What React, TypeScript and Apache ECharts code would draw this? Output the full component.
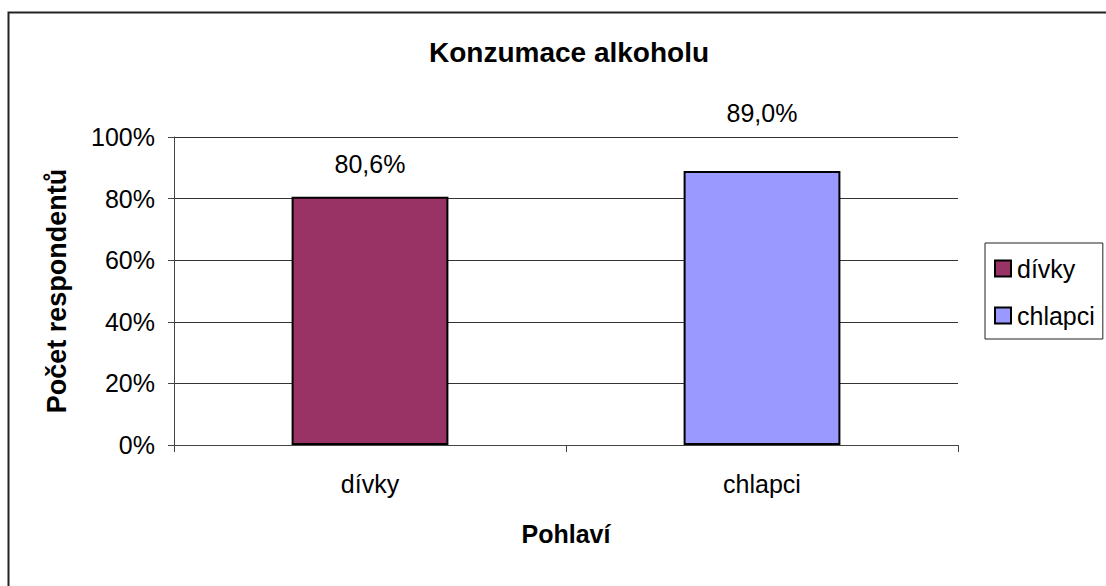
import React, { useEffect, useRef } from "react";
import * as echarts from "echarts";

const TITLE = "Konzumace alkoholu";
const categories = ["dívky", "chlapci"];
const seriesNames = ["dívky", "chlapci"];
const divkyValues = [80.6, "-"];
const chlapciValues = ["-", 89.0];
const labelDistances = [20, 45];
const colors = ["#993366", "#9999FF"];
const yTicks = { min: 0, max: 100, interval: 20 };
const yAxisName = "Počet respondentů";
const xAxisName = "Pohlaví";

const FONT = "'Liberation Sans', Arial, sans-serif";

export default function App() {
  const ref = useRef<HTMLDivElement>(null);
  useEffect(() => {
    if (!ref.current) return;
    const chart = echarts.init(ref.current, null, { renderer: "svg" });
    const fmt = (v: number) => v.toFixed(1).replace(".", ",") + "%";
    const mk = (name: string, data: any[], i: number) => ({
      name,
      type: "bar",
      data,
      barWidth: "40%",
      barGap: "-100%",
      itemStyle: { color: colors[i], borderColor: "#000", borderWidth: 2 },
      label: {
        show: true,
        position: "top",
        distance: labelDistances[i],
        fontFamily: FONT,
        fontSize: 25,
        color: "#000",
        formatter: (p: any) => fmt(p.value),
      },
    });
    chart.setOption({
      animation: false,
      backgroundColor: "#fff",
      textStyle: { fontFamily: FONT },
      title: {
        text: TITLE,
        left: 564,
        textAlign: "center",
        top: 33,
        textStyle: { fontFamily: FONT, fontSize: 28, fontWeight: "bold", color: "#000" },
      },
      graphic: [
        {
          type: "rect",
          shape: { x: 8.5, y: 12.5, width: 1300, height: 800 },
          style: { fill: "none", stroke: "#222", lineWidth: 2 },
          silent: true,
        },
      ],
      legend: {
        orient: "vertical",
        left: 985,
        top: 243,
        padding: [13, 8, 11, 9],
        borderColor: "#222",
        borderWidth: 1,
        itemWidth: 16,
        itemHeight: 16,
        itemGap: 22,
        icon: "rect",
        data: seriesNames,
        textStyle: { fontFamily: FONT, fontSize: 25, color: "#000", padding: [0, 0, 0, 1] },
      },
      grid: { left: 174, right: 148, top: 137, bottom: 141 },
      xAxis: {
        type: "category",
        data: categories,
        name: xAxisName,
        nameLocation: "middle",
        nameGap: 76,
        nameTextStyle: { fontFamily: FONT, fontSize: 25, fontWeight: "bold", color: "#000" },
        axisLine: { lineStyle: { color: "#444", width: 1 } },
        axisTick: { show: true, length: 7, lineStyle: { color: "#444" } },
        axisLabel: { fontFamily: FONT, fontSize: 25, color: "#000", margin: 26 },
      },
      yAxis: {
        type: "value",
        min: yTicks.min,
        max: yTicks.max,
        interval: yTicks.interval,
        name: yAxisName,
        nameLocation: "middle",
        nameGap: 104,
        nameTextStyle: { fontFamily: FONT, fontSize: 27, fontWeight: "bold", color: "#000" },
        axisLine: { show: true, lineStyle: { color: "#444", width: 1 } },
        axisTick: { show: true, length: 6, lineStyle: { color: "#444" } },
        axisLabel: { fontFamily: FONT, fontSize: 25, color: "#000", margin: 19, formatter: "{value}%" },
        splitLine: { lineStyle: { color: "#333", width: 1 } },
      },
      series: [mk(seriesNames[0], divkyValues, 0), mk(seriesNames[1], chlapciValues, 1)],
    });
    return () => chart.dispose();
  }, []);
  return (
    <div
      ref={ref}
      style={{ position: "fixed", left: 0, top: 0, width: 1106, height: 586 }}
    />
  );
}
